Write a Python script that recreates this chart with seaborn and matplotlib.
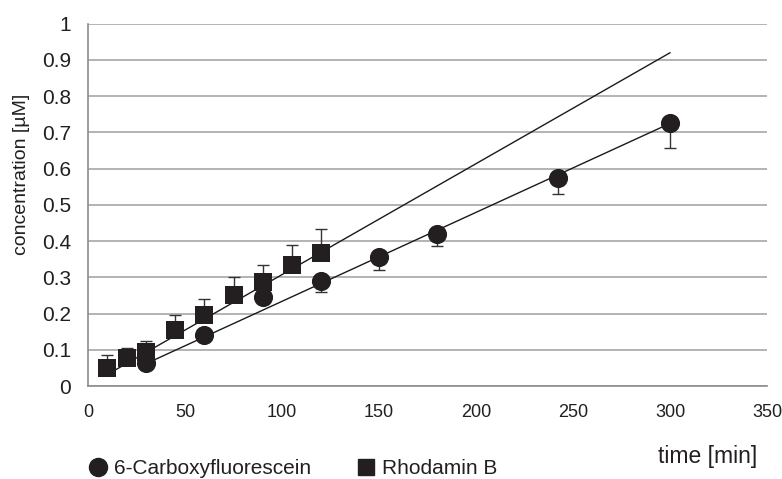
import matplotlib
matplotlib.use('Agg')

import numpy as np
import pandas as pd
import matplotlib.pyplot as plt
import seaborn as sns
from matplotlib.lines import Line2D

# --------------------------------------------------
# Data
# --------------------------------------------------
cf_time = [30, 60, 90, 120, 150, 180, 242, 300]
cf_conc = [0.065, 0.14, 0.245, 0.29, 0.357, 0.421, 0.575, 0.725]
cf_err_down = [0.0, 0.0, 0.0, 0.03, 0.037, 0.035, 0.045, 0.069]

rb_time = [10, 20, 30, 45, 60, 75, 90, 105, 120]
rb_conc = [0.05, 0.078, 0.095, 0.155, 0.195, 0.25, 0.287, 0.335, 0.368]
rb_err_up = [0.037, 0.026, 0.03, 0.041, 0.045, 0.05, 0.048, 0.055, 0.065]

# trend line end points
cf_fit_x = [30, 300]
cf_fit_y = [0.062, 0.725]
rb_fit_x = [10, 300]
rb_fit_y = [0.032, 0.92]

cf_df = pd.DataFrame({'time': cf_time, 'conc': cf_conc})
rb_df = pd.DataFrame({'time': rb_time, 'conc': rb_conc})

# --------------------------------------------------
# Plot
# --------------------------------------------------
sns.set_style('white')
plt.rcParams['font.family'] = ['Liberation Sans', 'DejaVu Sans']

mark_col = '#231f20'
grid_col = '#b3b3b3'

fig = plt.figure(figsize=(7.82, 4.79), dpi=100)
ax = fig.add_axes([0.1125, 0.194, 0.8685, 0.7565])

# trend lines
sns.lineplot(x=cf_fit_x, y=cf_fit_y, color='#1a1a1a', lw=1.0, ax=ax, zorder=2)
sns.lineplot(x=rb_fit_x, y=rb_fit_y, color='#1a1a1a', lw=1.0, ax=ax, zorder=2)

# one-sided error bars
ax.errorbar(cf_time, cf_conc, yerr=[cf_err_down, [0] * len(cf_time)],
            fmt='none', ecolor='#333333', elinewidth=1.0, capsize=4,
            capthick=1.0, zorder=3)
ax.errorbar(rb_time, rb_conc, yerr=[[0] * len(rb_time), rb_err_up],
            fmt='none', ecolor='#333333', elinewidth=1.0, capsize=4,
            capthick=1.0, zorder=3)

# markers
sns.scatterplot(data=cf_df, x='time', y='conc', marker='o', s=190,
                color=mark_col, edgecolor=mark_col, linewidth=0, ax=ax,
                zorder=4)
sns.scatterplot(data=rb_df, x='time', y='conc', marker='s', s=175,
                color=mark_col, edgecolor=mark_col, linewidth=0, ax=ax,
                zorder=4)

ax.set_xlim(0, 350)
ax.set_ylim(0, 1)
ax.set_xticks(np.arange(0, 351, 50))
ax.set_yticks(np.arange(0, 1.01, 0.1))
ax.set_yticklabels(['0', '0.1', '0.2', '0.3', '0.4', '0.5', '0.6', '0.7',
                    '0.8', '0.9', '1'])

ax.yaxis.grid(True, color=grid_col, lw=1.4)
ax.xaxis.grid(False)
ax.set_axisbelow(True)

for side in ['top', 'right']:
    ax.spines[side].set_visible(False)
for side in ['left', 'bottom']:
    ax.spines[side].set_color('#8c8c8c')
    ax.spines[side].set_linewidth(1.2)

ax.tick_params(axis='both', which='both', direction='out', length=6,
               width=1.0, color='#8c8c8c', labelsize=15,
               labelcolor='#231f20', pad=6)
ax.tick_params(axis='x', pad=7, labelsize=13)

ax.set_xlabel('')
ax.set_ylabel('concentration [µM]', fontsize=14, color='#231f20')
ax.yaxis.set_label_coords(-0.085, 0.585)

fig.text(0.968, 0.046, 'time [min]', ha='right', va='center',
         fontsize=16.5, color='#231f20')

handles = [
    Line2D([], [], marker='o', ls='none', color=mark_col, markersize=13),
    Line2D([], [], marker='s', ls='none', color=mark_col, markersize=12),
]
fig.legend(handles, ['6-Carboxyfluorescein', 'Rhodamin B'], ncol=2,
           loc='center left', bbox_to_anchor=(0.101, 0.021), frameon=False,
           fontsize=15, handletextpad=0.3, columnspacing=2.1,
           borderaxespad=0, handlelength=1.0, labelcolor='#231f20')

fig.savefig('out.png', dpi=100)
plt.close(fig)
